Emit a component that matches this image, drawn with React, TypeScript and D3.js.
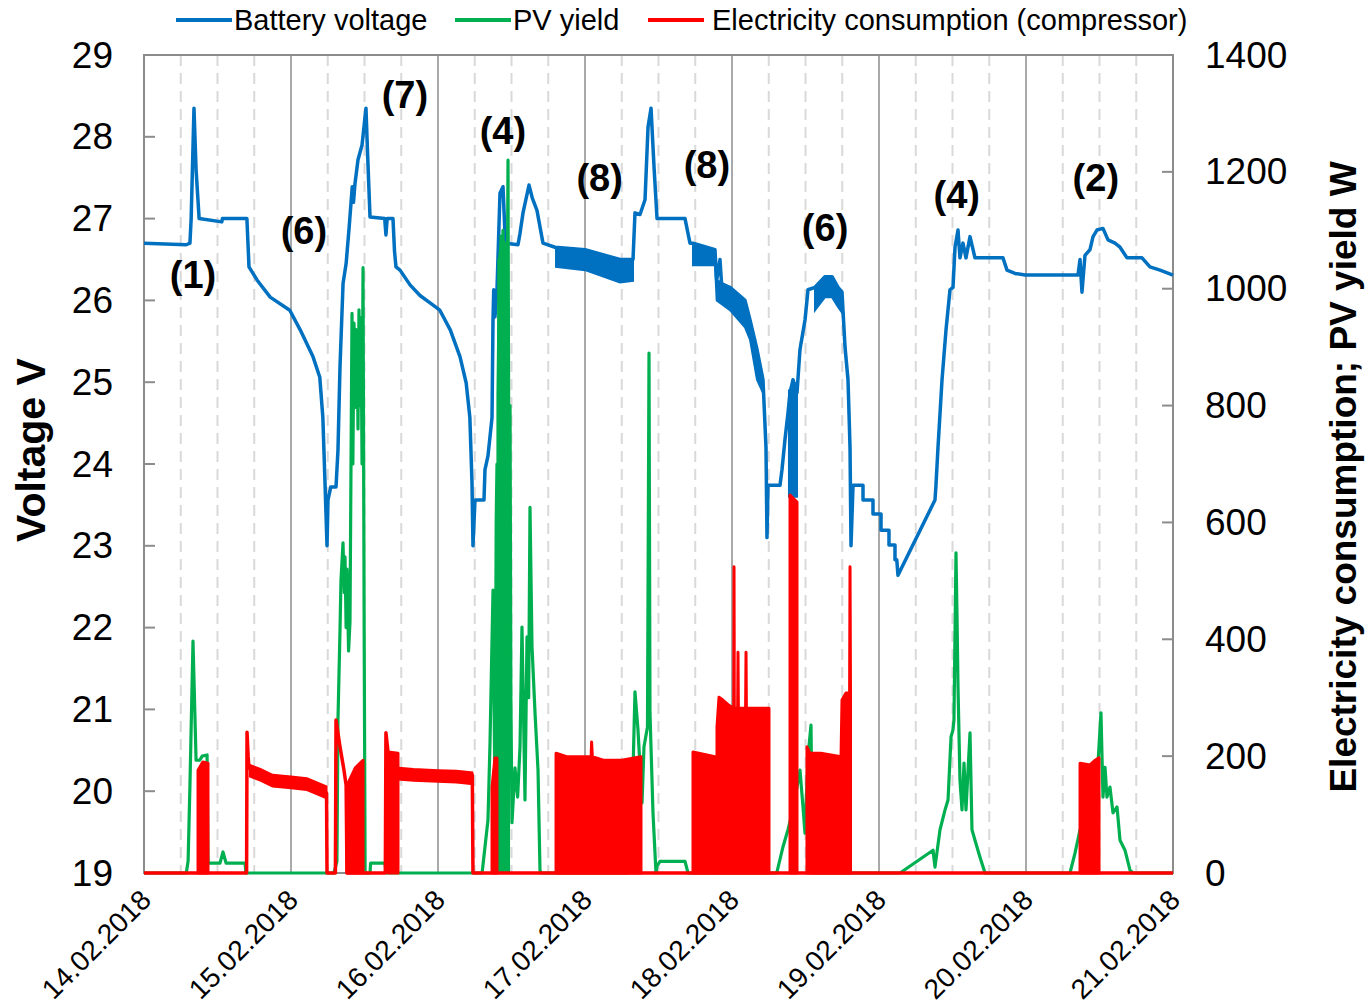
import React from "react";
import * as d3 from "d3";

const W = 1368;
const H = 1007;
const M = { left: 144, right: 1173, top: 55, bottom: 873 };

const START = new Date(2018, 1, 14);
const END = new Date(2018, 1, 21);
const at = (h: number) => new Date(START.getTime() + h * 3600000);

// battery voltage, [hours since 14.02.2018 00:00, V]
const batteryVoltage: [number, number][] = [
  [0, 26.7], [6.9, 26.68], [7.5, 26.7], [7.7, 27.0], [8.16, 28.35], [8.5, 27.6], [9.0, 27.0],
  [12.7, 26.96], [12.8, 27.0], [16.8, 27.0], [17.14, 26.41], [18.45, 26.25], [20.6, 26.04],
  [23.8, 25.88], [25.5, 25.64], [27.6, 25.31], [28.7, 25.06], [29.2, 24.57], [29.55, 23.77],
  [29.88, 23.0], [30.04, 23.56], [30.5, 23.72], [31.35, 23.72], [31.67, 24.17], [32.0, 25.19],
  [32.5, 26.21], [33.0, 26.45], [33.5, 26.9], [34.0, 27.39], [34.2, 27.2], [34.45, 27.43],
  [34.94, 27.72], [35.6, 27.9], [36.24, 28.35], [36.5, 27.8], [36.9, 27.02], [39.3, 27.0],
  [39.5, 26.8], [39.7, 27.0], [40.65, 27.0], [40.9, 26.6], [41.14, 26.41], [41.8, 26.37],
  [43.43, 26.19], [45.06, 26.06], [46.7, 25.97], [48.3, 25.88], [50.0, 25.64], [51.6, 25.31],
  [52.6, 24.99], [53.2, 24.57], [53.55, 23.77], [53.71, 23.0], [54.04, 23.56], [55.51, 23.56],
  [55.67, 23.93], [56.16, 24.1], [56.82, 24.57], [56.98, 25.76], [57.1, 26.13], [57.3, 25.8],
  [57.63, 26.13], [58.12, 27.31], [58.61, 27.39], [59.0, 26.7], [61.06, 26.68], [61.39, 26.82],
  [61.88, 27.07], [62.86, 27.41], [63.4, 27.25], [64.16, 27.1], [65.14, 26.7], [67.1, 26.65],
  [72.0, 26.62], [77.7, 26.5], [79.84, 26.5], [80.16, 27.07], [80.98, 27.05], [81.8, 27.23],
  [82.29, 28.12], [82.78, 28.35], [83.27, 27.63], [83.76, 27.0], [88.33, 27.0], [89.14, 26.7],
  [89.63, 26.7], [93.22, 26.62], [93.5, 26.25], [94.04, 26.5], [94.3, 26.2], [95.67, 26.16],
  [98.12, 26.0], [98.94, 25.76], [100.08, 25.4], [101.06, 25.03], [101.55, 24.2], [101.71, 23.1],
  [101.88, 23.74], [103.84, 23.74], [104.16, 23.93], [104.65, 24.3], [105.14, 24.62],
  [105.47, 24.87], [105.96, 25.03], [106.61, 24.87], [107.1, 25.4], [107.92, 25.76],
  [108.41, 26.13], [109.55, 26.16], [111.18, 26.29], [112.33, 26.29], [113.31, 26.16],
  [113.96, 26.1], [114.45, 25.43], [114.94, 25.03], [115.27, 24.2], [115.43, 23.0],
  [115.76, 23.74], [117.39, 23.74], [117.39, 23.56], [119.02, 23.56], [119.02, 23.39],
  [120.33, 23.39], [120.33, 23.19], [121.63, 23.19], [121.63, 23.01], [122.61, 23.01],
  [122.61, 22.83], [122.9, 22.83], [123.1, 22.64], [129.14, 23.56], [129.3, 23.74],
  [129.63, 24.2], [130.29, 25.03], [130.94, 25.64], [131.59, 26.13], [132.08, 26.16],
  [132.41, 26.65], [132.9, 26.86], [133.22, 26.52], [133.71, 26.7], [134.2, 26.52],
  [134.86, 26.78], [135.67, 26.52], [140.24, 26.52], [140.9, 26.37], [142.2, 26.33],
  [143.84, 26.31], [152.49, 26.31], [152.82, 26.5], [153.14, 26.1], [153.63, 26.55],
  [154.45, 26.62], [154.94, 26.78], [155.59, 26.86], [156.57, 26.88], [157.39, 26.74],
  [158.53, 26.7], [159.35, 26.65], [160.49, 26.52], [162.94, 26.52], [164.24, 26.41],
  [165.88, 26.37], [168, 26.31],
];

// ripple of the voltage while the compressor cycles, [hour, upper V, lower V]
const voltageBands: [number, number, number][][] = [
  [[67.27, 26.65, 26.41], [72.0, 26.62, 26.37], [77.71, 26.5, 26.22], [79.84, 26.5, 26.24]],
  [[89.63, 26.7, 26.43], [93.22, 26.62, 26.43], [93.5, 26.25, 26.0], [95.67, 26.16, 25.88],
   [98.12, 26.0, 25.67], [98.94, 25.76, 25.52], [100.08, 25.4, 25.03], [101.06, 25.03, 24.87]],
  [[105.3, 24.9, 23.6], [106.61, 25.0, 23.6]],
  [[109.55, 26.16, 25.88], [111.18, 26.29, 26.04], [112.33, 26.29, 26.04],
   [113.31, 26.16, 25.92], [113.96, 26.1, 25.85]],
];

// PV yield, [hour, W]
const pvYield: [number, number][] = [
  [0, 0], [6.9, 0], [7.2, 20], [7.5, 150], [8.0, 397], [8.5, 193], [9.1, 193], [9.5, 200],
  [10.3, 202], [10.45, 17], [12.4, 17], [12.9, 36], [13.4, 17], [16.5, 17], [16.65, 0],
  [31.0, 0], [31.5, 20], [31.67, 262], [32.0, 416], [32.16, 501], [32.49, 565], [32.7, 480],
  [32.82, 541], [33.0, 420], [33.14, 520], [33.4, 380], [33.63, 430], [33.96, 958], [34.1, 700],
  [34.29, 941], [34.45, 797], [34.6, 930], [34.78, 917], [34.94, 760], [35.1, 964], [35.3, 800],
  [35.43, 950], [35.6, 700], [35.76, 1036], [35.95, 400], [36.1, 0], [36.9, 0], [37.0, 17],
  [39.35, 17], [39.5, 0],
  [55.2, 0], [56.16, 91], [56.49, 222], [56.98, 484], [57.15, 300], [57.31, 125], [57.5, 600],
  [57.63, 700], [57.8, 150], [57.95, 1050], [58.12, 300], [58.3, 1090], [58.45, 400],
  [58.61, 1100], [58.78, 500], [58.94, 1050], [59.1, 350], [59.27, 900], [59.43, 1220],
  [59.59, 500], [59.76, 800], [59.9, 300], [60.08, 86], [60.57, 180], [61.0, 130], [61.39, 216],
  [61.71, 421], [62.0, 250], [62.2, 125], [62.53, 404], [62.8, 300], [63.02, 626], [63.35, 387],
  [63.84, 274], [64.33, 176], [64.65, 5], [64.8, 0],
  [79.0, 0], [79.67, 103], [80.16, 310], [80.65, 245], [81.31, 120], [81.63, 216], [82.2, 250],
  [82.45, 890], [82.61, 274], [83.1, 103], [83.59, 0], [83.76, 12], [84.24, 20], [88.33, 20],
  [88.82, 0],
  [103.3, 0], [104.33, 45], [105.14, 74], [106.0, 110], [107.1, 176], [107.59, 113],
  [107.92, 68], [108.41, 200], [108.9, 253], [109.0, 150], [109.3, 0],
  [123.43, 0], [128.82, 39], [129.14, 10], [129.96, 74], [130.78, 108], [131.27, 125],
  [131.76, 233], [132.08, 245], [132.24, 262], [132.57, 548], [132.73, 445], [132.9, 318],
  [133.22, 159], [133.55, 108], [133.88, 188], [134.2, 108], [134.86, 240], [135.18, 74],
  [135.67, 56], [136.49, 27], [137.31, 0],
  [151.18, 0], [152.0, 34], [152.82, 74], [154.45, 110], [155.76, 188], [156.24, 274],
  [156.57, 130], [156.9, 181], [157.22, 130], [157.71, 147], [158.2, 103], [158.86, 113],
  [159.35, 56], [160.16, 39], [160.98, 5], [161.47, 0], [168, 0],
];

// PV yield fluctuating so fast that it shows as a solid patch, top of patch [hour, W]
const pvBlocks: [number, number][][] = [
  [[57.7, 820], [57.95, 1050], [58.3, 1085], [58.9, 1080], [59.3, 1060], [59.6, 900]],
];

// compressor consumption where it runs steadily, [hour, W]
const consumption: [number, number][] = [
  [0, 0], [16.75, 0], [16.82, 241], [17.0, 200], [17.14, 180], [18.94, 171], [21.06, 159],
  [26.61, 154], [29.8, 137], [29.88, 0], [31.25, 0], [31.35, 262], [32.0, 216], [32.65, 176],
  [33.0, 150], [33.14, 0], [39.4, 0], [39.5, 240], [39.84, 207], [41.47, 176], [46.69, 171],
  [53.6, 168], [53.71, 0], [168, 0],
];

// noise of the steady consumption, [hour, W] (upper edge; band is ~20 W deep)
const consumptionNoise: [number, number][][] = [
  [[17.3, 185], [19.0, 178], [21.0, 168], [24.0, 165], [26.6, 162], [29.8, 148]],
  [[41.6, 180], [44.0, 178], [48.0, 176], [51.0, 175], [53.6, 172]],
];

// compressor cycling on/off (drawn solid), top of each block, [hour, W]
const compressorBlocks: [number, number][][] = [
  [[8.82, 176], [9.6, 190], [10.45, 188]],
  [[33.14, 150], [34.5, 180], [35.76, 193]],
  [[39.84, 207], [41.47, 205]],
  [[56.82, 147], [57.3, 197], [57.63, 197]],
  [[67.27, 205], [69.0, 199], [73.0, 199], [73.08, 224], [73.2, 199], [75.0, 193], [78.0, 193],
   [81.14, 199]],
  [[89.63, 207], [93.22, 199]],
  [[93.55, 250], [93.88, 301], [94.5, 296], [95.5, 287], [96.28, 282], [96.33, 524],
   [96.38, 282], [96.92, 282], [96.98, 378], [97.04, 282], [98.22, 282], [98.29, 378],
   [98.35, 282], [102.04, 282]],
  [[105.47, 647], [106.61, 635]],
  [[108.24, 216], [108.7, 205], [110.5, 205], [113.8, 199], [113.96, 296], [114.61, 308],
   [115.2, 308], [115.27, 524], [115.35, 300]],
  [[152.82, 188], [154.45, 185], [155.3, 193], [155.92, 197]],
];

const voltTicks = d3.range(19, 30);
const powerTicks = d3.range(0, 1401, 200);

const annotations = [
  { text: "(1)", h: 8.0, v: 26.31 },
  { text: "(6)", h: 26.1, v: 26.85 },
  { text: "(7)", h: 42.6, v: 28.51 },
  { text: "(4)", h: 58.6, v: 28.07 },
  { text: "(8)", h: 74.4, v: 27.5 },
  { text: "(8)", h: 91.9, v: 27.66 },
  { text: "(6)", h: 111.2, v: 26.89 },
  { text: "(4)", h: 132.7, v: 27.29 },
  { text: "(2)", h: 155.4, v: 27.5 },
];

const seriesNames = ["Battery voltage", "PV yield", "Electricity consumption (compressor)"];
const colors = ["#0070C0", "#00B050", "#FF0000"];

const FONT = "Liberation Sans, Arial, sans-serif";

export default function App() {
  const x = d3.scaleTime().domain([START, END]).range([M.left, M.right]);
  const yV = d3.scaleLinear().domain([19, 29]).range([M.bottom, M.top]);
  const yP = d3.scaleLinear().domain([0, 1400]).range([M.bottom, M.top]);

  const vLine = d3.line<[number, number]>().x((d) => x(at(d[0]))).y((d) => yV(d[1]));
  const pLine = d3.line<[number, number]>().x((d) => x(at(d[0]))).y((d) => yP(d[1]));
  const band = d3
    .area<[number, number, number]>()
    .x((d) => x(at(d[0])))
    .y0((d) => yV(d[2]))
    .y1((d) => yV(d[1]));
  const noise = d3
    .area<[number, number]>()
    .x((d) => x(at(d[0])))
    .y0((d) => yP(d[1] - 20))
    .y1((d) => yP(d[1]));
  const block = d3
    .area<[number, number]>()
    .x((d) => x(at(d[0])))
    .y0(yP(0))
    .y1((d) => yP(d[1]));

  const days = d3.timeDay.range(START, d3.timeDay.offset(END, 1));
  const quarters = d3.timeHour.every(6)!.range(START, END).filter((d) => d.getHours() !== 0);
  const fmt = d3.timeFormat("%d.%m.%Y");

  const legendX = [176, 455, 648];

  return (
    <svg
      width={W}
      height={H}
      style={{ position: "absolute", left: 0, top: 0, background: "#fff" }}
      fontFamily={FONT}
    >
      {/* gridlines */}
      {quarters.map((d, i) => (
        <line key={"q" + i} x1={x(d)} x2={x(d)} y1={M.top} y2={M.bottom}
          stroke="#d9d9d9" strokeWidth={2} strokeDasharray="11,7" />
      ))}
      {days.map((d, i) => (
        <line key={"d" + i} x1={x(d)} x2={x(d)} y1={M.top} y2={M.bottom}
          stroke="#8c8c8c" strokeWidth={1.5} />
      ))}
      <rect x={M.left} y={M.top} width={M.right - M.left} height={M.bottom - M.top}
        fill="none" stroke="#8c8c8c" strokeWidth={2} />
      {voltTicks.map((t) => (
        <line key={"lt" + t} x1={M.left} x2={M.left + 11} y1={yV(t)} y2={yV(t)} stroke="#8c8c8c" strokeWidth={2} />
      ))}
      {powerTicks.map((t) => (
        <line key={"rt" + t} x1={M.right - 11} x2={M.right} y1={yP(t)} y2={yP(t)} stroke="#8c8c8c" strokeWidth={2} />
      ))}

      {/* battery voltage */}
      {voltageBands.map((b, i) => (
        <path key={"b" + i} d={band(b) || ""} fill={colors[0]} stroke={colors[0]} strokeWidth={2} />
      ))}
      <path d={vLine(batteryVoltage) || ""} fill="none" stroke={colors[0]} strokeWidth={3.5} strokeLinejoin="round" />

      {/* PV yield */}
      {pvBlocks.map((b, i) => (
        <path key={"p" + i} d={block(b) || ""} fill={colors[1]} stroke={colors[1]} strokeWidth={2} />
      ))}
      <path d={pLine(pvYield) || ""} fill="none" stroke={colors[1]} strokeWidth={3.2} strokeLinejoin="round" />

      {/* consumption */}
      {compressorBlocks.map((b, i) => (
        <path key={"c" + i} d={block(b) || ""} fill={colors[2]} stroke={colors[2]} strokeWidth={3} strokeLinejoin="round" />
      ))}
      {consumptionNoise.map((b, i) => (
        <path key={"cb" + i} d={noise(b) || ""} fill={colors[2]} stroke={colors[2]} strokeWidth={2} />
      ))}
      <path d={pLine(consumption) || ""} fill="none" stroke={colors[2]} strokeWidth={3.5} strokeLinejoin="round" />

      {/* annotations */}
      {annotations.map((a, i) => (
        <text key={"a" + i} x={x(at(a.h))} y={yV(a.v)} textAnchor="middle" dominantBaseline="central"
          fontSize={38} fontWeight="bold">{a.text}</text>
      ))}

      {/* axes labels */}
      {voltTicks.map((t) => (
        <text key={"lv" + t} x={113} y={yV(t)} textAnchor="end" dominantBaseline="central" fontSize={37}>{t}</text>
      ))}
      {powerTicks.map((t) => (
        <text key={"rv" + t} x={1205} y={yP(t)} textAnchor="start" dominantBaseline="central" fontSize={37}>{t}</text>
      ))}
      {days.map((d, i) => (
        <text key={"x" + i} transform={`translate(${x(d) + 2},${M.bottom + 22}) rotate(-45)`}
          textAnchor="end" dominantBaseline="central" fontSize={28}>{fmt(d)}</text>
      ))}
      <text transform={`translate(31,450) rotate(-90)`} textAnchor="middle"
        dominantBaseline="central" fontSize={41} fontWeight="bold">Voltage V</text>
      <text transform={`translate(1343,477) rotate(-90)`} textAnchor="middle"
        dominantBaseline="central" fontSize={37} fontWeight="bold">Electricity consumption; PV yield W</text>

      {/* legend */}
      {seriesNames.map((n, i) => (
        <g key={"lg" + i}>
          <line x1={legendX[i]} x2={legendX[i] + 56} y1={20} y2={20} stroke={colors[i]} strokeWidth={4} />
          <text x={legendX[i] + 58 + (i === 2 ? 6 : 0)} y={20} dominantBaseline="central" fontSize={29}>{n}</text>
        </g>
      ))}
    </svg>
  );
}
